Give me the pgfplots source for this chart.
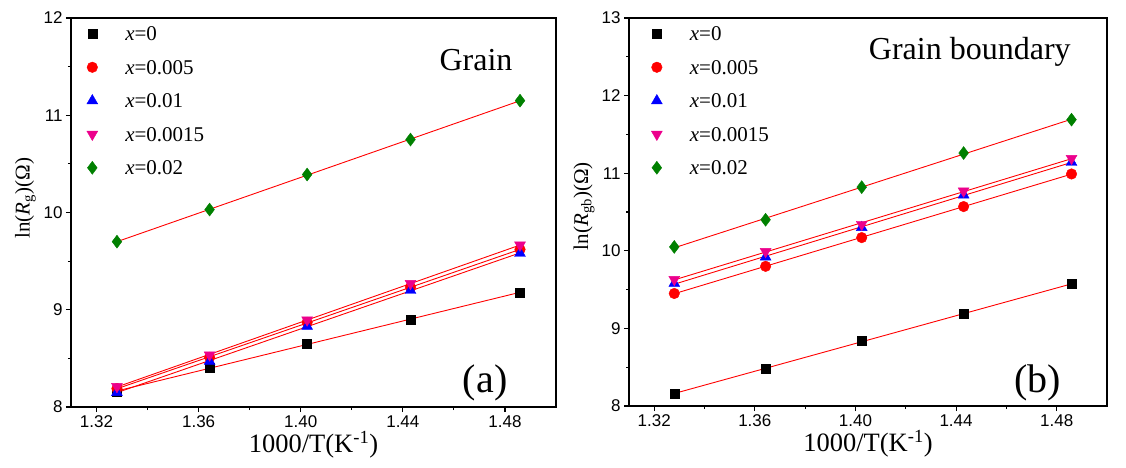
\documentclass[border=0pt]{standalone}
\usepackage{fontspec}
\setmainfont{Liberation Serif}
\newfontfamily\arial{Liberation Sans}
\usepackage{pgfplots}
\usepackage{pgfplotstable}
\pgfplotsset{compat=1.18}

\definecolor{ogreen}{RGB}{0,128,0}

% 1000/T, then ln R for x = 0, 0.005, 0.01, 0.0015, 0.02
\pgfplotstableread{
x      a     b     c     d     e
1.3280 8.16  8.19  8.15  8.21  9.70
1.3643 8.40  8.51  8.47  8.535 10.03
1.4025 8.655 8.87  8.83  8.895 10.39
1.4430 8.895 9.23  9.20  9.27  10.75
1.4859 9.18  9.62  9.58  9.665 11.15
}\tabG

\pgfplotstableread{
x      a     b     c     d     e
1.3280 8.16  9.45  9.58  9.63  10.05
1.3643 8.48  9.80  9.92  9.99  10.40
1.4025 8.84  10.17 10.30 10.34 10.82
1.4430 9.19  10.57 10.72 10.77 11.26
1.4859 9.57  10.99 11.14 11.19 11.69
}\tabGB

\pgfplotsset{
  panel/.style={
    scale only axis,
    xmin=1.31, xmax=1.50,
    xtick={1.32,1.36,1.40,1.44,1.48},
    xticklabels={1.32,1.36,1.40,1.44,1.48},
    minor x tick num=1, minor y tick num=1,
    tick align=outside, xtick pos=bottom, ytick pos=left,
    axis line style={line width=1.3bp},
    every tick/.style={black, line width=1.1bp},
    major tick length=5bp, minor tick length=3bp,
    ticklabel style={font=\arial\fontsize{17bp}{19bp}\selectfont},
    /pgf/number format/assume math mode=true,
    xlabel={1000/T(K\textsuperscript{-1})},
    xlabel style={font=\fontsize{26.5bp}{30bp}\selectfont,
      at={(axis description cs:0.5,-0.098)}, anchor=center},
    ylabel style={font=\fontsize{21bp}{24bp}\selectfont, anchor=center},
    legend style={draw=none, fill=none, inner sep=0pt, anchor=north west,
      font=\fontsize{21bp}{24bp}\selectfont, row sep=14bp,
      nodes={text height=13.5bp, text depth=0bp, inner ysep=3bp}},
    legend cell align=left,
  },
  mk/.style={only marks,
    legend image code/.code={
      \draw[mark repeat=2, mark phase=2, ##1] plot coordinates {(-1bp,0bp)(0bp,0bp)(1bp,0bp)};
      \path[draw=none, fill=none] (-9bp,-1bp) rectangle (31bp,1bp);}},
  s0/.style={mk, mark=square*, mark size=4.5bp, black},
  s1/.style={mk, mark=*, mark size=5.3bp, red},
  s2/.style={mk, mark=triangle*, mark size=6.3bp, blue},
  s3/.style={mk, mark=triangle*, mark size=6.3bp, magenta, mark options={rotate=180}},
  s4/.style={mk, mark=diamond*, mark size=6.5bp, ogreen},
  fit/.style={red, line width=0.9bp, no markers, forget plot},
}

\begin{document}
\begin{tikzpicture}
\useasboundingbox (-71bp,-61bp) rectangle (1055bp,407bp);

\begin{axis}[panel, at={(0,0)}, anchor=south west,
  width=485bp, height=389bp,
  ymin=8, ymax=12, ytick={8,9,10,11,12},
  ylabel={ln(\textit{R}\textsubscript{g})(Ω)},
  ylabel style={at={(axis description cs:-0.094,0.537)}},
  legend style={at={(axis description cs:0.025,0.985)}},
]
  \addplot[s0] table[x=x, y=a] {\tabG};
  \addplot[s1] table[x=x, y=b] {\tabG};
  \addplot[s2] table[x=x, y=c] {\tabG};
  \addplot[s3] table[x=x, y=d] {\tabG};
  \addplot[s4] table[x=x, y=e] {\tabG};
  \addplot[fit] table[x=x, y={create col/linear regression={y=a}}] {\tabG};
  \addplot[fit] table[x=x, y={create col/linear regression={y=b}}] {\tabG};
  \addplot[fit] table[x=x, y={create col/linear regression={y=c}}] {\tabG};
  \addplot[fit] table[x=x, y={create col/linear regression={y=d}}] {\tabG};
  \addplot[fit] table[x=x, y={create col/linear regression={y=e}}] {\tabG};
  \legend{\textit{x}=0, \textit{x}=0.005, \textit{x}=0.01, \textit{x}=0.0015, \textit{x}=0.02}
  \node[anchor=base, font=\fontsize{32bp}{36bp}\selectfont] at (axis description cs:0.835,0.866) {Grain};
  \node[anchor=base, font=\fontsize{40bp}{44bp}\selectfont] at (axis description cs:0.854,0.036) {(a)};
\end{axis}

\begin{axis}[panel, at={(558bp,1bp)}, anchor=south west,
  width=478bp, height=388bp,
  ymin=8, ymax=13, ytick={8,9,10,11,12,13},
  ylabel={ln(\textit{R}\textsubscript{gb})(Ω)},
  ylabel style={at={(axis description cs:-0.094,0.515)}},
  legend style={at={(axis description cs:0.039,0.985)}},
]
  \addplot[s0] table[x=x, y=a] {\tabGB};
  \addplot[s1] table[x=x, y=b] {\tabGB};
  \addplot[s2] table[x=x, y=c] {\tabGB};
  \addplot[s3] table[x=x, y=d] {\tabGB};
  \addplot[s4] table[x=x, y=e] {\tabGB};
  \addplot[fit] table[x=x, y={create col/linear regression={y=a}}] {\tabGB};
  \addplot[fit] table[x=x, y={create col/linear regression={y=b}}] {\tabGB};
  \addplot[fit] table[x=x, y={create col/linear regression={y=c}}] {\tabGB};
  \addplot[fit] table[x=x, y={create col/linear regression={y=d}}] {\tabGB};
  \addplot[fit] table[x=x, y={create col/linear regression={y=e}}] {\tabGB};
  \legend{\textit{x}=0, \textit{x}=0.005, \textit{x}=0.01, \textit{x}=0.0015, \textit{x}=0.02}
  \node[anchor=base, font=\fontsize{32bp}{36bp}\selectfont] at (axis description cs:0.713,0.894) {Grain boundary};
  \node[anchor=base, font=\fontsize{40bp}{44bp}\selectfont] at (axis description cs:0.855,0.036) {(b)};
\end{axis}
\end{tikzpicture}
\end{document}
